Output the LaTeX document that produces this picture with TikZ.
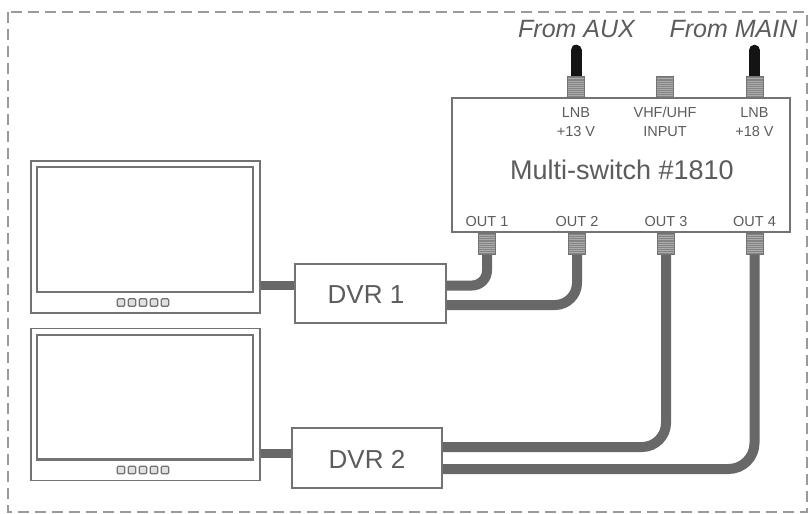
\documentclass[tikz,border=0pt]{standalone}
\usepackage{fontspec}
\setmainfont{Liberation Sans}
\usetikzlibrary{calc}
\definecolor{boxgray}{HTML}{737373}
\definecolor{txtgray}{HTML}{5C5C5C}
\definecolor{cablegray}{HTML}{686868}
\definecolor{threadgray}{HTML}{858585}
\definecolor{threadline}{HTML}{ABABAB}
\definecolor{framegray}{HTML}{9A9A9A}
\begin{document}
\begin{tikzpicture}[x=1pt,y=-1pt,
  box/.style={draw=boxgray, line width=1.6pt, fill=white, inner sep=0pt},
  screen/.style={draw=boxgray, line width=2.4pt},
  knob/.style={draw=boxgray, line width=1.3pt, fill=black!12, rounded corners=1.2pt},
  cable/.style={draw=cablegray, line width=10pt, rounded corners=#1},
  cable/.default=15pt,
  lnbcable/.style={draw=black!92, line width=11pt, line cap=round},
  lbl/.style={text=txtgray, font=\fontsize{14.5}{19}\selectfont, anchor=base, inner sep=0pt, align=center},
  big/.style={text=txtgray, font=\fontsize{26}{30}\selectfont, anchor=base, inner sep=0pt},
  src/.style={text=txtgray, font=\fontsize{25}{30}\selectfont\itshape, anchor=base, inner sep=0pt},
  conn/.style={draw=boxgray, line width=0.8pt, fill=threadgray, minimum width=17pt, minimum height=21pt, inner sep=0pt,
    path picture={\foreach \k in {0.1,0.2,...,0.95}{\draw[threadline, line width=0.6pt]
      ($(path picture bounding box.south west)!\k!(path picture bounding box.north west)$) -- ++(20pt,0);}}},
  frame/.style={draw=framegray, line width=1.5pt, dash pattern=on 11pt off 6pt}
]
\useasboundingbox (0,0) rectangle (809,514);
\fill[white] (0,0) rectangle (809,514);
\draw[frame] (8,12) rectangle (807,512);

% boxes
\node[box, minimum width=229pt, minimum height=152pt] (mon1) at (145.5,237) {};
\node[box, minimum width=229pt, minimum height=152pt] (mon2) at (145.5,404.5) {};
\node[box, minimum width=151pt, minimum height=59pt] (dvr1) at (370.5,293.5) {};
\node[box, minimum width=150pt, minimum height=60pt] (dvr2) at (367,458) {};
\node[box, minimum width=338pt, minimum height=134pt] (ms) at (621,165) {};

% screens and buttons
\foreach \m in {mon1,mon2}{
  \draw[screen] ($(\m.north west)+(7,7)$) rectangle ($(\m.south east)+(-8,-22)$);
  \foreach \i in {0,...,4}{
    \draw[knob] ($(\m.south west)+(87+\i*11,-15)$) rectangle ++(7.5,7.5);
  }
}

% connectors
\node[conn, anchor=south] (in1) at (576,98) {};
\node[conn, anchor=south] (in2) at (665,98) {};
\node[conn, anchor=south] (in3) at (754.5,98) {};
\node[conn, anchor=north] (o1) at (487,233) {};
\node[conn, anchor=north] (o2) at (577,233) {};
\node[conn, anchor=north] (o3) at (666,233) {};
\node[conn, anchor=north] (o4) at (754.5,233) {};

% cable end points
\coordinate (d1a) at ($(dvr1.east)+(0,-8)$);
\coordinate (d1b) at ($(dvr1.east)+(0,11.5)$);
\coordinate (d2a) at ($(dvr2.east)+(0,-11)$);
\coordinate (d2b) at ($(dvr2.east)+(0,11)$);
\coordinate (auxend) at ($(in1.north)+(0,-26)$);
\coordinate (mainend) at ($(in3.north)+(0,-26)$);

% cables
\draw[cable=15pt] (o1.south) |- (d1a);
\draw[cable=22pt] (o2.south) |- (d1b);
\draw[cable=24pt] (o3.south) |- (d2a);
\draw[cable=26pt] (o4.south) |- (d2b);
\draw[cable=0pt, line width=9pt] ($(mon1.east)+(0,48)$) -- ($(dvr1.west)+(0,-8.5)$);
\draw[cable=0pt, line width=9pt] ($(mon2.east)+(0,48.5)$) -- ($(dvr2.west)+(0,-5)$);
\draw[lnbcable] (in1.north) -- (auxend);
\draw[lnbcable] (in3.north) -- (mainend);

% redraw connectors on top of cables
\foreach \c in {in1,in2,in3,o1,o2,o3,o4}{
  \node[conn] at (\c.center) {};
}

% texts
\node[src] (taux) at (576.5,37) {From AUX};
\node[src] (tmain) at (733.5,37) {From MAIN};
\node[lbl] (l1) at (576,136) {LNB\\+13 V};
\node[lbl] (l2) at (665,136) {VHF/UHF\\INPUT};
\node[lbl] (l3) at (754.5,136) {LNB\\+18 V};
\node[big, font=\fontsize{27}{30}\selectfont] (mst) at (622,179) {Multi-switch \#1810};
\node[lbl] (t1) at (487,226) {OUT 1};
\node[lbl] (t2) at (577,226) {OUT 2};
\node[lbl] (t3) at (666,226) {OUT 3};
\node[lbl] (t4) at (754.5,226) {OUT 4};
\node[big] (dt1) at (366,303) {DVR 1};
\node[big] (dt2) at (367,468) {DVR 2};
\end{tikzpicture}
\end{document}
